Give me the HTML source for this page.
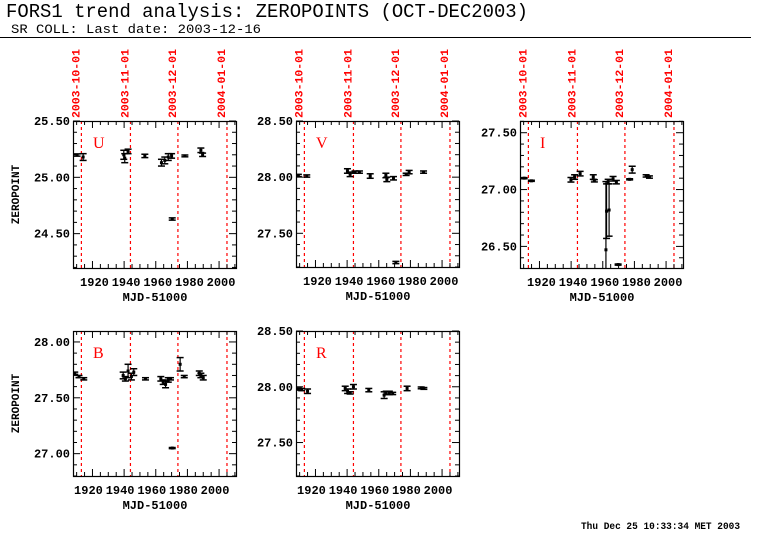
<!DOCTYPE html>
<html><head><meta charset="utf-8"><style>
html,body{margin:0;padding:0;background:#fff;}
svg{display:block;}
text{font-family:"Liberation Mono",monospace;}
</style></head><body>
<svg id="chart" width="782" height="542" viewBox="0 0 782 542" xmlns="http://www.w3.org/2000/svg">
<text x="6" y="17" font-size="19" textLength="522" lengthAdjust="spacingAndGlyphs">FORS1 trend analysis: ZEROPOINTS (OCT-DEC2003)</text>
<text x="11" y="33" font-size="13" textLength="250" lengthAdjust="spacingAndGlyphs">SR COLL: Last date: 2003-12-16</text>
<line x1="0" y1="37.5" x2="751" y2="37.5" stroke="#000" stroke-width="1"/>
<text x="581" y="529" font-size="10" font-weight="bold" textLength="159" lengthAdjust="spacingAndGlyphs">Thu Dec 25 10:33:34 MET 2003</text>
<g id="plots"></g>
</svg>
<script>
// shared axis data
const xTicks = [1920, 1940, 1960, 1980, 2000];
const dateMjd = [1913, 1944, 1974, 2005];
const dateLabels = ["2003-10-01", "2003-11-01", "2003-12-01", "2004-01-01"];

// U band
const uMjd = [1910.3,1914.1,1939.8,1940.4,1942.5,1953.1,1963.6,1965.7,1967.9,1970.0,1970.4,1978.4,1988.5,1989.6];
const uZp  = [25.198,25.18,25.20,25.17,25.23,25.19,25.13,25.15,25.18,25.19,24.63,25.19,25.24,25.20];
const uErr = [0.01,0.03,0.04,0.04,0.02,0.015,0.03,0.03,0.03,0.02,0.01,0.008,0.02,0.015];
const uYTicks = [24.5, 25.0, 25.5];

// V band
const vMjd = [1909.2,1914.5,1940.2,1941.9,1945.0,1947.8,1954.6,1964.5,1965.1,1969.3,1970.8,1977.3,1979.2,1988.3];
const vZp  = [28.015,28.01,28.055,28.025,28.045,28.045,28.01,28.015,27.98,27.99,27.24,28.025,28.045,28.045];
const vErr = [0.01,0.01,0.02,0.02,0.01,0.01,0.02,0.02,0.02,0.015,0.01,0.01,0.015,0.01];
const vYTicks = [27.5, 28.0, 28.5];

// I band
const iMjd = [1910.3,1914.9,1939.9,1942.2,1945.7,1954.0,1954.7,1962.0,1962.4,1964.0,1963.4,1966.5,1968.6,1969.7,1977.0,1978.6,1987.4,1989.5];
const iZp  = [27.10,27.077,27.086,27.11,27.14,27.11,27.077,26.47,26.81,26.82,27.07,27.095,27.065,26.34,27.09,27.175,27.12,27.11];
const iErr = [0.005,0.005,0.02,0.02,0.02,0.02,0.01,0.6,0.24,0.23,0.02,0.02,0.015,0.005,0.005,0.03,0.01,0.01];
const iYTicks = [26.5, 27.0, 27.5];

// B band
const bMjd = [1908.8,1911.5,1914.5,1939.4,1940.8,1942.5,1944.6,1946.1,1953.5,1963.2,1964.7,1966.2,1967.9,1969.3,1970.4,1975.4,1978.0,1987.5,1988.5,1990.0];
const bZp  = [27.72,27.69,27.67,27.70,27.67,27.74,27.69,27.73,27.67,27.67,27.64,27.62,27.66,27.67,27.05,27.80,27.69,27.72,27.70,27.68];
const bErr = [0.01,0.01,0.01,0.03,0.02,0.06,0.03,0.03,0.01,0.02,0.02,0.03,0.02,0.01,0.005,0.06,0.01,0.02,0.02,0.02];
const bYTicks = [27.0, 27.5, 28.0];

// R band
const rMjd = [1909.2,1911.3,1915.0,1938.8,1940.3,1941.9,1944.0,1953.7,1963.4,1964.7,1966.7,1968.8,1977.9,1986.8,1988.5];
const rZp  = [27.98,27.975,27.96,27.985,27.96,27.945,28.0,27.97,27.925,27.945,27.945,27.94,27.985,27.99,27.985];
const rErr = [0.01,0.01,0.02,0.02,0.02,0.01,0.02,0.015,0.03,0.015,0.015,0.01,0.02,0.008,0.008];
const rYTicks = [27.5, 28.0, 28.5];

const NS = "http://www.w3.org/2000/svg";
const root = document.getElementById("plots");
function mk(tag, attrs, parent) {
  const e = document.createElementNS(NS, tag);
  for (const k in attrs) e.setAttribute(k, attrs[k]);
  (parent || root).appendChild(e);
  return e;
}
const XMIN = 1907.7, XMAX = 2010.7;
const panels = [
  {band:"U", x0:73,  y0:121, y1:268, ymin:24.195, ymax:25.5,  mjd:uMjd, zp:uZp, err:uErr, yt:uYTicks, top:true},
  {band:"V", x0:296, y0:121, y1:267, ymin:27.2,   ymax:28.5,  mjd:vMjd, zp:vZp, err:vErr, yt:vYTicks, top:true},
  {band:"I", x0:520, y0:121, y1:268, ymin:26.31,  ymax:27.603,mjd:iMjd, zp:iZp, err:iErr, yt:iYTicks, top:true},
  {band:"B", x0:73,  y0:331, y1:476, ymin:26.80,  ymax:28.098,mjd:bMjd, zp:bZp, err:bErr, yt:bYTicks, top:false},
  {band:"R", x0:296, y0:331, y1:476, ymin:27.2,   ymax:28.5,  mjd:rMjd, zp:rZp, err:rErr, yt:rYTicks, top:false}
];
panels.forEach(p => {
  const W = 163;
  const g = mk("g", {});
  
  
  const sx = v => p.x0 + (v - XMIN) / (XMAX - XMIN) * W;
  const sy = v => p.y1 - (v - p.ymin) / (p.ymax - p.ymin) * (p.y1 - p.y0);
  const clip = "clip" + p.band;
  const cp = mk("clipPath", {id: clip}, g);
  mk("rect", {x:p.x0, y:p.y0, width:W, height:p.y1 - p.y0}, cp);
  dateMjd.forEach((d, i) => {
    const x = sx(d);
    const l = mk("line", {x1:x, x2:x, y1:p.y0, y2:p.y1, stroke:"#f00", "stroke-width":1.2, "stroke-dasharray":"3,3"}, g);
    
    
    if (p.top) {
      const t = mk("text", {x:x - 2, y:p.y0 - 3, "font-size":11, "font-weight":"bold", fill:"#f00",
        transform:`rotate(-90 ${x - 2} ${p.y0 - 3})`, textLength:69, lengthAdjust:"spacingAndGlyphs"}, g);
      t.textContent = dateLabels[i];
      
      
    }
  });
  const fr = mk("rect", {x:p.x0 + 0.5, y:p.y0 + 0.5, width:W, height:p.y1 - p.y0, fill:"none", stroke:"#000", "stroke-width":1.2}, g);
  
  
  const lo = Math.ceil(p.ymin * 10), hi = Math.floor(p.ymax * 10);
  for (let k = lo; k <= hi; k++) {
    const y = sy(k / 10), major = (k % 5 === 0);
    const len = major ? 7 : 4;
    mk("line", {x1:p.x0, x2:p.x0 + len, y1:y, y2:y, stroke:"#000"}, g);
    mk("line", {x1:p.x0 + W, x2:p.x0 + W - len, y1:y, y2:y, stroke:"#000"}, g);
  }
  p.yt.forEach(v => {
    const t = mk("text", {x:p.x0 - 3, y:sy(v) + 4, "font-size":12, "font-weight":"bold", "text-anchor":"end"}, g);
    t.textContent = v.toFixed(2);
    
    
  });
  for (let m = 1910; m <= 2010; m += 5) {
    const x = sx(m), len = (m % 20 === 0) ? 7 : 4;
    mk("line", {x1:x, x2:x, y1:p.y1, y2:p.y1 - len, stroke:"#000"}, g);
    mk("line", {x1:x, x2:x, y1:p.y0, y2:p.y0 + len, stroke:"#000"}, g);
  }
  xTicks.forEach(v => {
    const t = mk("text", {x:sx(v) + (p.top ? 2 : -4), y:p.y1 + 18, "font-size":12, "font-weight":"bold", "text-anchor":"middle"}, g);
    t.textContent = v;
    
    
  });
  const xt = mk("text", {x:p.x0 + 82, y:p.y1 + 33, "font-size":12, "font-weight":"bold", "text-anchor":"middle"}, g);
  xt.textContent = "MJD-51000";
  
  
  if (p.x0 === 73) {
    const cy = (p.y0 + p.y1) / 2;
    const yt = mk("text", {x:19, y:cy, "font-size":11, "font-weight":"bold", "text-anchor":"middle", transform:`rotate(-90 19 ${cy})`}, g);
    yt.textContent = "ZEROPOINT";
    
    
  }
  const bl = mk("text", {x:p.x0 + 20, y:p.y0 + 27, "font-size":16, fill:"#f00", style:"font-family:'Liberation Serif',serif"}, g);
  bl.textContent = p.band;
  
  
  const dg = mk("g", {"clip-path":`url(#${clip})`}, g);
  p.mjd.forEach((m, i) => {
    const x = sx(m), y = sy(p.zp[i]), ya = sy(p.zp[i] + p.err[i]), yb = sy(p.zp[i] - p.err[i]);
    const eg = mk("g", {}, dg);
    
    
    mk("line", {x1:x, x2:x, y1:ya, y2:yb, stroke:"#000", "stroke-width":1.2}, eg);
    mk("line", {x1:x - 3.5, x2:x + 3.5, y1:ya, y2:ya, stroke:"#000", "stroke-width":1.5}, eg);
    mk("line", {x1:x - 3.5, x2:x + 3.5, y1:yb, y2:yb, stroke:"#000", "stroke-width":1.5}, eg);
    mk("rect", {x:x - 1.5, y:y - 1.5, width:3, height:3, fill:"#000"}, eg);
  });
});
</script>
</body></html>
